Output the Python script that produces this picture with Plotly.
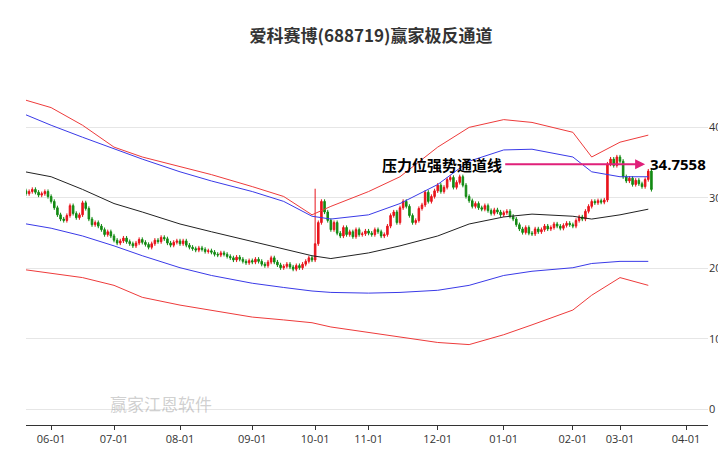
import pandas as pd
import plotly.graph_objects as go

holidays = ["2023-06-22","2023-06-23","2023-09-29","2023-10-02","2023-10-03","2023-10-04",
            "2023-10-05","2023-10-06","2024-01-01","2024-02-09","2024-02-12","2024-02-13",
            "2024-02-14","2024-02-15","2024-02-16","2024-04-04","2024-04-05"]

closes = [
 30.5,30.8,31.0,30.6,30.9,31.2,30.8,30.4,30.6,30.9,30.2,
 29.5,28.6,27.6,27.0,26.8,27.5,28.9,27.8,27.2,27.6,29.3,28.5,27.0,26.2,26.5,26.0,25.5,24.8,25.2,24.6,
 24.0,23.6,23.9,24.3,23.8,23.5,23.2,23.6,24.1,23.7,23.4,23.0,23.5,24.0,23.8,24.4,24.2,23.6,23.3,23.7,23.9,
 23.5,23.9,23.3,23.0,22.8,22.6,22.9,22.7,22.4,22.5,22.3,22.0,21.9,22.2,22.0,21.7,21.5,21.2,21.6,21.3,21.0,20.8,21.1,
 20.9,21.3,21.0,20.6,20.4,20.9,21.5,20.9,20.5,20.1,20.3,20.6,20.2,19.9,20.4,20.1,20.6,21.0,21.5,21.2,
 23.5,26.5,29.5,28.0,26.8,25.5,26.5,25.0,24.6,25.8,24.8,25.2,24.5,25.5,24.8,24.9,25.3,
 25.0,24.8,25.5,25.2,24.6,24.8,26.0,27.5,28.0,26.5,28.6,29.5,28.8,27.5,26.5,26.8,28.5,29.0,30.8,29.5,30.2,31.0,
 31.8,30.9,31.5,32.6,32.9,31.5,32.2,33.0,31.8,30.2,29.6,28.8,29.2,28.6,28.4,28.9,28.2,27.8,28.3,28.0,27.6,
 27.9,28.1,27.4,27.0,26.2,25.6,25.1,25.8,25.0,24.9,25.6,25.2,25.5,26.0,25.6,25.8,26.3,26.0,25.7,26.1,26.4,26.2,
 26.0,26.8,27.3,27.0,28.1,28.8,29.5,29.3,29.6,29.4,29.7,34.8,35.5,34.6,35.8,
 35.2,33.0,32.4,32.8,31.9,32.5,32.0,31.6,32.6,33.8,31.2]
spike_highs = {"2023-10-09": 31.3}

band_dates = ["2023-05-17","2023-06-01","2023-06-15","2023-07-03","2023-07-14","2023-08-01","2023-08-15",
              "2023-09-01","2023-09-15","2023-09-28","2023-10-16","2023-11-01","2023-11-15","2023-12-01",
              "2023-12-15","2024-01-02","2024-01-15","2024-02-01","2024-02-19","2024-03-01","2024-03-14"]
mid   = [34.1,33.0,31.2,29.2,28.0,26.3,25.2,23.8,22.7,21.8,21.4,22.2,23.2,24.6,26.3,27.3,27.7,27.4,27.0,27.6,28.4]
up_b  = [42.7,40.3,38.6,37.0,35.5,33.7,32.4,30.9,29.5,27.4,27.0,27.6,29.2,31.9,35.2,36.8,36.9,35.8,33.7,33.0,33.0]
lo_b  = [26.7,25.7,24.6,23.2,21.8,20.1,19.0,17.9,17.3,16.8,16.6,16.5,16.6,16.9,17.6,19.0,19.6,20.1,20.7,21.0,21.0]
up_r  = [44.5,42.8,40.3,37.2,35.8,34.4,33.3,31.6,30.2,27.6,28.8,30.9,33.0,37.2,40.0,41.1,40.7,39.3,35.8,37.9,38.9]
lo_r  = [20.1,19.3,18.7,17.6,15.9,14.8,14.1,13.1,12.7,12.3,11.7,10.9,10.2,9.5,9.2,10.6,12.0,14.1,16.2,18.7,17.6]

hol = pd.to_datetime(holidays)
alld = pd.bdate_range("2023-05-17", "2024-03-31")
dates = [d for d in alld if d not in hol][:len(closes)]
opens = [closes[0]] + closes[:-1]
highs = [max(o, c) + 0.3 for o, c in zip(opens, closes)]
lows = [min(o, c) - 0.3 for o, c in zip(opens, closes)]
for k, v in spike_highs.items():
    i = dates.index(pd.Timestamp(k)); highs[i] = v

fig = go.Figure()
for ys, col in [(up_r, "#ee3b3b"), (lo_r, "#ee3b3b"), (up_b, "#3a3ae8"), (lo_b, "#3a3ae8"), (mid, "#222222")]:
    fig.add_trace(go.Scatter(x=band_dates, y=ys, mode="lines", line=dict(color=col, width=1), hoverinfo="skip"))
fig.add_trace(go.Candlestick(x=dates, open=opens, high=highs, low=lows, close=closes,
    increasing=dict(line=dict(color="#e8141c", width=1), fillcolor="#e8141c"),
    decreasing=dict(line=dict(color="#138a13", width=1), fillcolor="#138a13"), whiskerwidth=0))
fig.add_trace(go.Scatter(x=[dates[-1], "2024-04-20"], y=[closes[-1]] * 2, mode="lines",
    line=dict(color="#138a13", width=1, dash="dash")))

fig.add_annotation(x="2024-03-13", y=34.7558, ax="2024-01-02", ay=34.7558, axref="x", ayref="y",
    showarrow=True, arrowhead=2, arrowsize=1, arrowwidth=2, arrowcolor="#e0207a", text="")
fig.add_annotation(x="2024-01-02", y=34.7558, text="<b>压力位强势通道线</b>", showarrow=False, xanchor="right",
    font=dict(size=15, color="black", family="Noto Sans CJK SC"))
fig.add_annotation(x="2024-03-14", y=34.7558, text="<b>34.7558</b>", showarrow=False, xanchor="left",
    font=dict(size=15, color="black"))
fig.add_annotation(xref="paper", yref="paper", x=0.12, y=0.02, text="赢家江恩软件", showarrow=False,
    font=dict(size=17, color="rgba(150,150,150,0.45)", family="Noto Sans CJK SC"))

fig.update_layout(
    width=726, height=450, margin=dict(l=18, r=26, t=70, b=28), plot_bgcolor="white", paper_bgcolor="white",
    showlegend=False,
    title=dict(text="<b>爱科赛博(688719)赢家极反通道</b>", x=0.5, y=0.95, xanchor="center",
               font=dict(size=17, color="#333", family="Noto Sans CJK SC")),
    xaxis=dict(range=["2023-05-22", "2024-04-12"], rangeslider=dict(visible=False),
               rangebreaks=[dict(bounds=["sat", "mon"]), dict(values=holidays)],
               tickvals=["2023-06-01","2023-07-03","2023-08-01","2023-09-01","2023-10-09","2023-11-01",
                         "2023-12-01","2024-01-02","2024-02-01","2024-03-01","2024-04-01"],
               ticktext=["06-01","07-01","08-01","09-01","10-01","11-01","12-01","01-01","02-01","03-01","04-01"],
               showgrid=False, ticks="outside", ticklen=4, tickcolor="#333",
               showline=True, linecolor="#333", tickfont=dict(size=11, color="#333")),
    yaxis=dict(side="right", range=[-2.2, 47], tickvals=[0, 10, 20, 30, 40], showgrid=True,
               gridcolor="#e6e6e6", zeroline=False, tickfont=dict(size=11, color="#333")),
)
fig.write_html("out.html")
